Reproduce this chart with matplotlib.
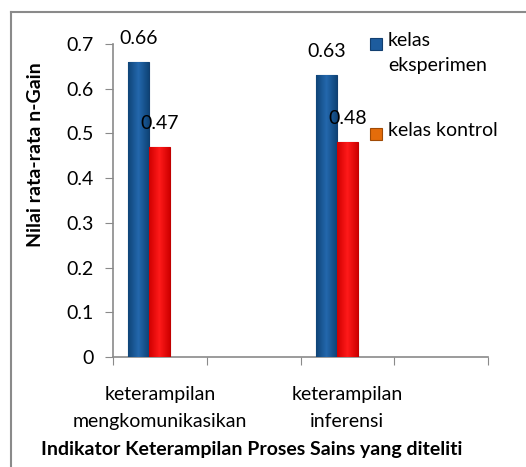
import matplotlib
matplotlib.use("Agg")
import matplotlib.pyplot as plt
import numpy as np
from matplotlib.patches import Rectangle
from matplotlib.lines import Line2D
from matplotlib.colors import LinearSegmentedColormap

categories = ["keterampilan\nmengkomunikasikan", "keterampilan\ninferensi"]
series_names = ["kelas\neksperimen", "kelas kontrol"]
eksperimen = [0.66, 0.63]
kontrol = [0.47, 0.48]
yticks = [0, 0.1, 0.2, 0.3, 0.4, 0.5, 0.6, 0.7]

plt.rcParams['font.family'] = ['Lato', 'DejaVu Sans']
FS = 14

W, H = 526, 467
fig = plt.figure(figsize=(W / 100, H / 100), dpi=100)

# outer frame (top and left lines)
fig.add_artist(Line2D([11 / W, 1.0], [1 - 12 / H, 1 - 12 / H], color='#8a8a8a', lw=1.5))
fig.add_artist(Line2D([11 / W, 11 / W], [0, 1 - 12 / H], color='#8a8a8a', lw=1.5))

ax = fig.add_axes([113 / W, (H - 357) / H, (488 - 113) / W, (357 - 44) / H])

w = 0.224
centers = [0.5, 2.5]
xb = [c - w for c in centers]
xr = [c for c in centers]
bars_b = ax.bar(xb, eksperimen, width=w, color='#1D5C9E', edgecolor='#123F70', linewidth=0.8, zorder=3)
bars_r = ax.bar(xr, kontrol, width=w, color='#FF0000', edgecolor='#C00000', linewidth=0.8, zorder=3)

cm_b = LinearSegmentedColormap.from_list('b', ['#0F4478', '#2468AD', '#0F4478'])
cm_r = LinearSegmentedColormap.from_list('r', ['#D00000', '#FF1A1A', '#D00000'])
grad = np.linspace(0, 1, 64).reshape(1, -1)
for bars, cm in ((bars_b, cm_b), (bars_r, cm_r)):
    for b in bars:
        x0, y0 = b.get_x(), b.get_y()
        im = ax.imshow(grad, cmap=cm, aspect='auto', zorder=3.5,
                       extent=[x0, x0 + b.get_width(), y0, y0 + b.get_height()])
        im.set_clip_path(b)

for x, v in zip(xb, eksperimen):
    ax.annotate(f"{v:g}", (x, v), xytext=(0, 15), textcoords='offset pixels',
                ha='center', va='bottom', fontsize=FS, color='black', zorder=6)
for x, v in zip(xr, kontrol):
    ax.annotate(f"{v:g}", (x, v), xytext=(0, 15), textcoords='offset pixels',
                ha='center', va='bottom', fontsize=FS, color='black', zorder=6)

ax.set_xlim(0, 4)
ax.set_ylim(0, 0.7)
ax.set_yticks(yticks)
ax.set_yticklabels([f"{t:g}" for t in yticks], fontsize=FS)
ax.set_xticks([0, 1, 2, 3, 4])
ax.set_xticklabels([])
ax.set_xticks(centers, minor=True)
ax.set_xticklabels(categories, minor=True, fontsize=FS)
for lab in ax.get_xticklabels(minor=True):
    lab.set_multialignment('center')
    lab.set_linespacing(1.7)
ax.tick_params(axis='x', which='minor', length=0, pad=21)
ax.tick_params(axis='x', which='major', length=6, color='#8a8a8a', direction='out')
ax.tick_params(axis='y', length=6, color='#8a8a8a', direction='out', pad=8)
for s in ['top', 'right']:
    ax.spines[s].set_visible(False)
for s in ['left', 'bottom']:
    ax.spines[s].set_color('#8a8a8a')
    ax.spines[s].set_linewidth(1.2)

fig.text(252 / W, 1 - 450 / H, "Indikator Keterampilan Proses Sains yang diteliti",
         fontsize=FS, fontweight='bold', ha='center', va='center')
fig.text(36 / W, 1 - 155 / H, "Nilai rata-rata n-Gain", rotation=90, fontsize=FS,
         fontweight='bold', ha='center', va='center')

# legend (drawn manually to match the layout: marker aligned with first line)
leg_colors = [('#1D5C9E', '#123F70'), ('#E46C0A', '#A04A05')]
leg_rows_y = [44, 134]
for name, (fc, ec), yc in zip(series_names, leg_colors, leg_rows_y):
    fig.add_artist(Rectangle((370 / W, 1 - (yc + 6) / H), 12 / W, 12 / H,
                             facecolor=fc, edgecolor=ec, lw=0.8))
    fig.text(388 / W, 1 - (yc - 12) / H, name, fontsize=FS, ha='left', va='top',
             linespacing=1.6)

fig.savefig("out.png", dpi=100)
